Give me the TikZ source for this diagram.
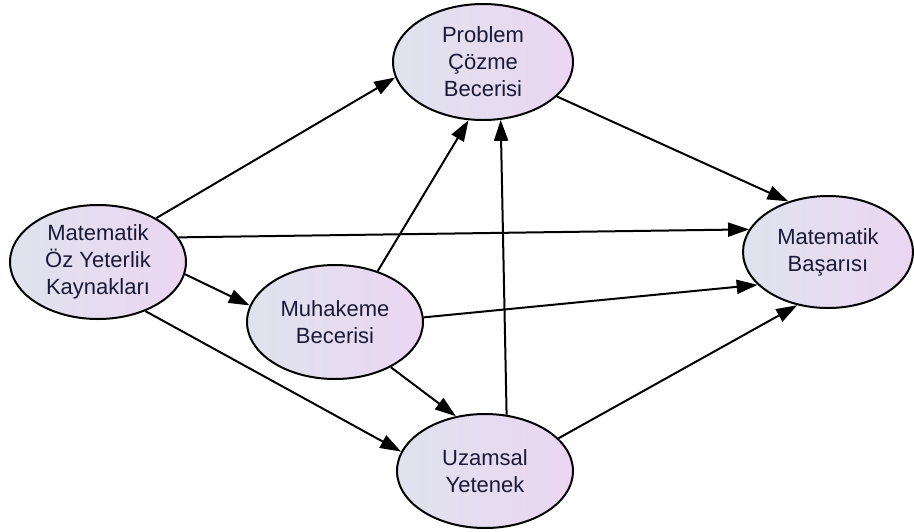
\documentclass[tikz,border=0pt]{standalone}
\usepackage{fontspec}
\setmainfont{Liberation Sans}
\usetikzlibrary{shapes.geometric,arrows.meta}
\definecolor{fillL}{HTML}{DFE3EE}
\definecolor{fillR}{HTML}{EBD6F1}
\definecolor{ink}{HTML}{1A1A36}
\tikzset{
  var/.style={ellipse, draw=black, line width=2pt, inner sep=0pt,
    left color=fillL, right color=fillR, align=center, text=ink,
    font=\fontsize{22}{27}\selectfont},
  link/.style={line width=2pt, -{Triangle[length=21pt,width=14pt]}}
}
\begin{document}
\begin{tikzpicture}[x=1pt,y=-1pt]
\useasboundingbox (0,0) rectangle (914,531);
% variables
\node[var, minimum width=180pt, minimum height=116pt] (pc) at (483,62) {Problem\\Çözme\\Becerisi};
\node[var, minimum width=176pt, minimum height=114pt] (oz) at (98,262) {Matematik\\Öz Yeterlik\\Kaynakları};
\node[var, minimum width=176pt, minimum height=114pt] (mh) at (335,322) {Muhakeme\\Becerisi};
\node[var, minimum width=170pt, minimum height=112pt] (mb) at (828,252) {Matematik\\Başarısı};
\node[var, minimum width=176pt, minimum height=114pt] (uz) at (485,471) {Uzamsal\\Yetenek};
% paths
\draw[link] (oz.37) -- (pc.190);
\draw[link] (oz.17) -- (mb.164);
\draw[link] (oz.-8) -- (mh.169);
\draw[link] (oz.-46) -- (uz.167);
\draw[link] (mh.50) -- (pc.-104);
\draw[link] (mh.3) -- (mb.205);
\draw[link] (mh.-39) -- (uz.118);
\draw[link] (uz.69) -- (pc.-73);
\draw[link] (uz.24) -- (mb.-120);
\draw[link] (pc.-25) -- (mb.128);
\end{tikzpicture}
\end{document}
